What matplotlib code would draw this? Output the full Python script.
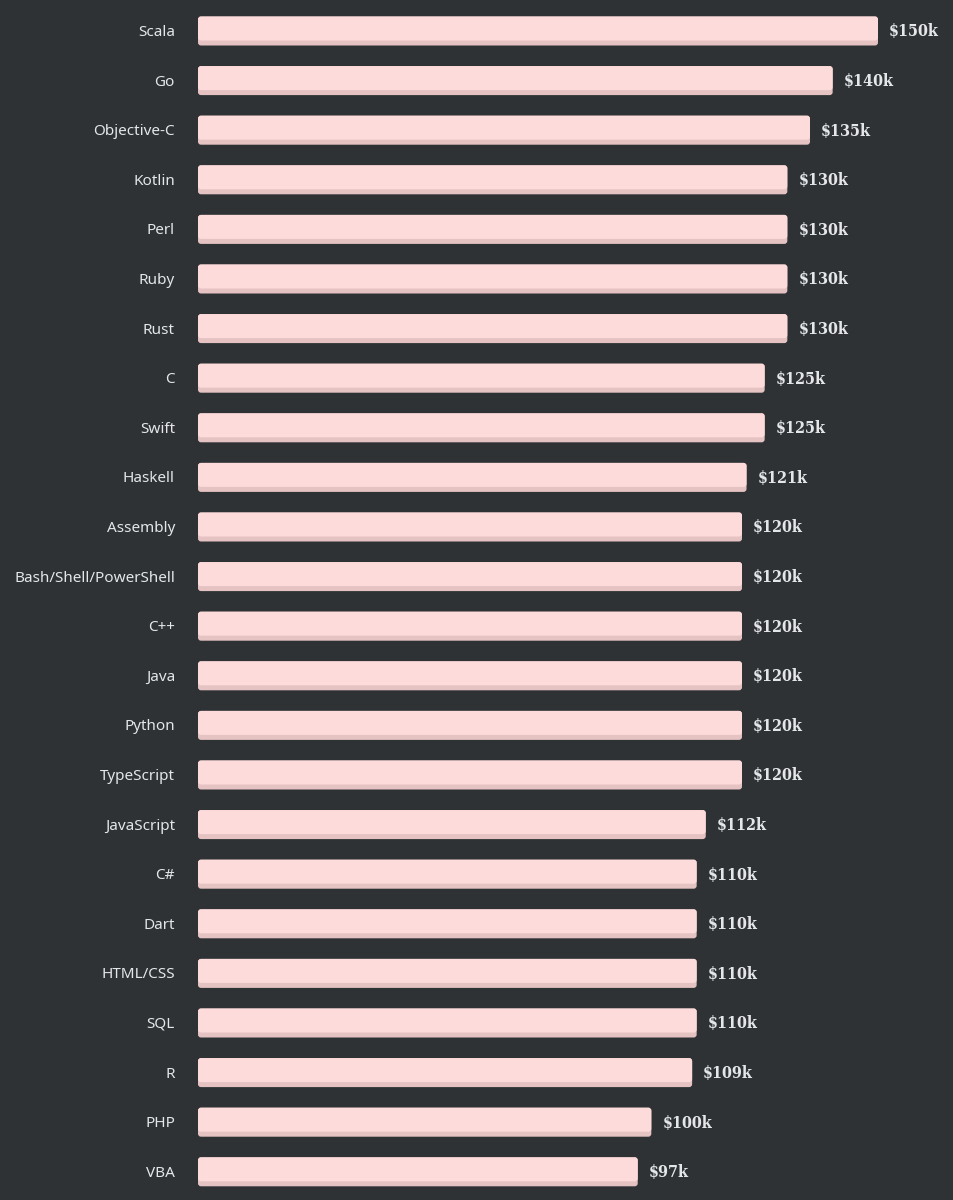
import matplotlib
matplotlib.use("Agg")
import matplotlib.pyplot as plt
from matplotlib.patches import FancyBboxPatch
import numpy as np

LANGUAGES = [
    "Scala", "Go", "Objective-C", "Kotlin", "Perl", "Ruby", "Rust", "C",
    "Swift", "Haskell", "Assembly", "Bash/Shell/PowerShell", "C++", "Java",
    "Python", "TypeScript", "JavaScript", "C#", "Dart", "HTML/CSS", "SQL",
    "R", "PHP", "VBA",
]
SALARY_K = [
    150, 140, 135, 130, 130, 130, 130, 125, 125, 121, 120, 120, 120, 120,
    120, 120, 112, 110, 110, 110, 110, 109, 100, 97,
]

BG = "#2e3235"
BAR = "#fddbda"
BAR_EDGE = "#e6c3c3"
TEXT = "#e4e6e8"

W, H = 954, 1200
fig = plt.figure(figsize=(W / 100, H / 100), dpi=100, facecolor=BG)
ax = fig.add_axes([198 / W, 0, 1 - 198 / W, 1])
ax.set_facecolor(BG)

px_per_k = 680 / 150
step = 49.6
ax.set_xlim(0, (W - 198) / px_per_k)
ax.set_ylim((H - 31) / step, -31 / step)
ax.axis("off")

bar_h = 29 / step
strip = 5 / step
rx = 3 / px_per_k
aspect = (3 / step) / rx

for i, (lang, val) in enumerate(zip(LANGUAGES, SALARY_K)):
    y0 = i - bar_h / 2
    ax.add_patch(FancyBboxPatch((0, y0), val, bar_h,
                                boxstyle=f"round,pad=0,rounding_size={rx}",
                                mutation_aspect=aspect, fc=BAR_EDGE, ec="none"))
    ax.add_patch(FancyBboxPatch((0, y0), val, bar_h - strip,
                                boxstyle=f"round,pad=0,rounding_size={rx}",
                                mutation_aspect=aspect, fc=BAR, ec="none"))
    ax.text(-23 / px_per_k, i + 0.03, lang, ha="right", va="center",
            fontsize=11, color=TEXT, family="Noto Sans", clip_on=False)
    ax.text(val + 11 / px_per_k, i + 0.02, f"${val}k", ha="left", va="center",
            fontsize=11.5, color=TEXT, family="DejaVu Serif",
            fontweight="bold", fontstretch="condensed")

fig.savefig("out.png", dpi=100, facecolor=BG)
